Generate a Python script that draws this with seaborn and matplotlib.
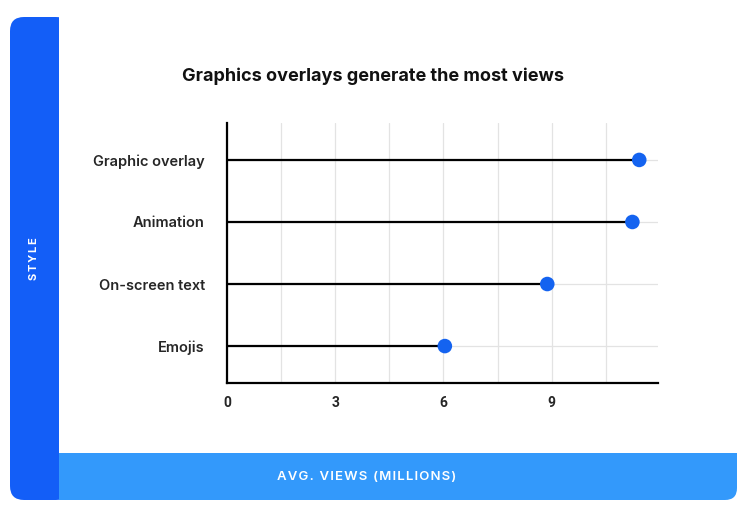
#!/usr/bin/env python3
"""Lollipop chart: average views by video style."""

import matplotlib.pyplot as plt
import pandas as pd
import seaborn as sns
from matplotlib.patches import FancyBboxPatch, Rectangle
from matplotlib.ticker import FuncFormatter, MultipleLocator

# Data
styles = ["Graphic overlay", "Animation", "On-screen text", "Emojis"]
avg_views = [11.43, 11.24, 8.88, 6.04]

TITLE = "Graphics overlays generate the most views"
SIDE_LABEL = "STYLE"
BOTTOM_LABEL = "AVG. VIEWS (MILLIONS)"

DARK_BLUE = "#135ef7"
LIGHT_BLUE = "#3399fb"
DOT_BLUE = "#1463f0"
GRID_GREY = "#e3e3e3"

W, H = 748, 507

df = pd.DataFrame({"style": styles, "views": avg_views})

sns.set_theme(style="white")
plt.rcParams["font.family"] = ["Inter", "DejaVu Sans"]

fig = plt.figure(figsize=(W / 100, H / 100), dpi=100)

# --- Card background (pixel coordinates) ---
bg = fig.add_axes([0, 0, 1, 1], zorder=0)
bg.set_xlim(0, W)
bg.set_ylim(H, 0)
bg.axis("off")

# bottom bar: rounded, then squared off on its left end
bg.add_patch(FancyBboxPatch((59, 453), 678, 47,
                            boxstyle="round,pad=0,rounding_size=12",
                            fc=LIGHT_BLUE, ec="none", zorder=1))
bg.add_patch(Rectangle((59, 453), 600, 47, fc=LIGHT_BLUE, ec="none", zorder=1))
bg.add_patch(Rectangle((59, 453), 678, 20, fc=LIGHT_BLUE, ec="none", zorder=1))
# side bar: rounded on the left, squared on the right
bg.add_patch(FancyBboxPatch((10, 17), 60, 483,
                            boxstyle="round,pad=0,rounding_size=14",
                            fc=DARK_BLUE, ec="none", zorder=2))
bg.add_patch(Rectangle((59, 17), 20, 436, fc="white", ec="none", zorder=3))
bg.add_patch(Rectangle((59, 453), 20, 47, fc=LIGHT_BLUE, ec="none", zorder=3))

bg.text(34.5, 259, "\u2009".join(SIDE_LABEL), rotation=90,
        ha="center", va="center", color="white", fontsize=8,
        fontweight="bold", zorder=5)
bg.text(367, 477, "\u200a".join(BOTTOM_LABEL), ha="center", va="center",
        color="white", fontsize=9.5, fontweight="semibold", zorder=5)
bg.text(373, 76, TITLE, ha="center", va="center", color="#111111",
        fontsize=13, fontweight="bold", zorder=5)

# --- Main chart ---
ax = fig.add_axes([227 / W, 1 - 383.3 / H, (658 - 227) / W, (383.3 - 122.7) / H],
                  zorder=2)
ax.set_facecolor("none")

ax.hlines(y=df["style"], xmin=0, xmax=df["views"], color="black",
          linewidth=1.6, zorder=3)
sns.scatterplot(data=df, x="views", y="style", color=DOT_BLUE, s=110,
                edgecolor="none", ax=ax, zorder=4, legend=False)

ax.set_xlim(0, 11.95)
ax.set_ylim(3.6, -0.6)
ax.xaxis.set_major_locator(MultipleLocator(1.5))
ax.xaxis.set_major_formatter(
    FuncFormatter(lambda v, _: f"{v:.0f}" if abs(v % 3) < 1e-6 else ""))
ax.grid(True, color=GRID_GREY, linewidth=0.9, zorder=0)
ax.set_axisbelow(True)

for side in ["top", "right"]:
    ax.spines[side].set_visible(False)
for side in ["left", "bottom"]:
    ax.spines[side].set_color("black")
    ax.spines[side].set_linewidth(1.6)

ax.tick_params(axis="x", length=0, pad=9, labelsize=10)
ax.tick_params(axis="y", length=0, pad=16, labelsize=10.5)
for lbl in ax.get_xticklabels():
    lbl.set_fontfamily(["Roboto", "DejaVu Sans"])
    lbl.set_fontweight("bold")
for lbl in ax.get_yticklabels():
    lbl.set_fontweight("semibold")
ax.set_xlabel("")
ax.set_ylabel("")

fig.savefig("out.png", dpi=100)
